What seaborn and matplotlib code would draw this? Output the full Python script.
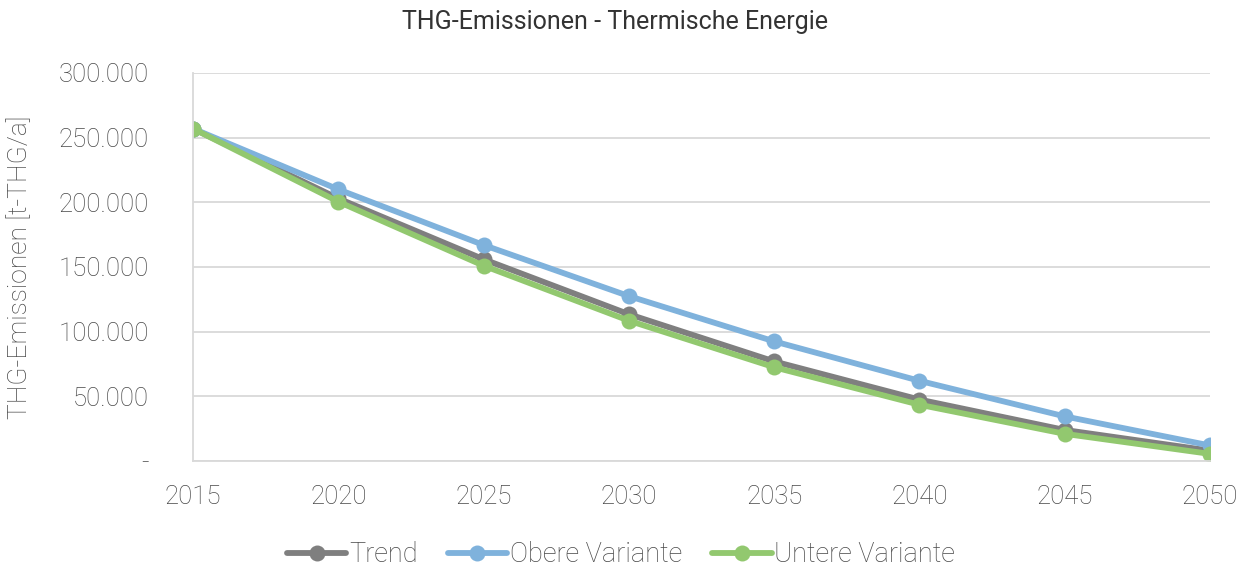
import matplotlib
matplotlib.use("Agg")
import matplotlib.pyplot as plt
import matplotlib.ticker as mticker
import seaborn as sns
import pandas as pd

years = [2015, 2020, 2025, 2030, 2035, 2040, 2045, 2050]
trend = [257000, 203000, 156000, 113500, 77000, 47500, 24000, 8000]
obere = [257000, 210000, 167000, 127500, 92500, 62000, 34500, 12000]
untere = [257000, 200500, 151000, 108500, 72500, 43500, 21000, 5500]
series_names = ["Trend", "Obere Variante", "Untere Variante"]
colors = ["#7F7F7F", "#7FB2DC", "#92C86F"]

title = "THG-Emissionen - Thermische Energie"
ylabel = "THG-Emissionen [t-THG/a]"

sns.set_theme(style="white")
plt.rcParams["font.family"] = ["Roboto", "DejaVu Sans"]
plt.rcParams["font.weight"] = "light"

TXT = "#484848"

df = pd.DataFrame({
    "Jahr": years * 3,
    "Wert": trend + obere + untere,
    "Serie": [series_names[0]] * len(years) + [series_names[1]] * len(years) + [series_names[2]] * len(years),
})

fig = plt.figure(figsize=(12.48, 5.70), dpi=100)
ax = fig.add_axes([193 / 1248, 1 - 461 / 570, 1017 / 1248, 388 / 570])

sns.lineplot(data=df, x="Jahr", y="Wert", hue="Serie", style="Serie",
             palette=dict(zip(series_names, colors)),
             markers={n: "o" for n in series_names}, dashes=False,
             linewidth=4.2, markersize=11.5, markeredgewidth=0, ax=ax, legend=True)

ax.set_xlim(2015, 2050)
ax.set_ylim(0, 300000)
ax.set_xticks(years)
ax.set_yticks([0, 50000, 100000, 150000, 200000, 250000, 300000])

def fmt(v, pos):
    if v == 0:
        return "-"
    return f"{int(v):,}".replace(",", ".")

ax.yaxis.set_major_formatter(mticker.FuncFormatter(fmt))
ax.grid(axis="y", color="#D9D9D9", linewidth=1.3)
ax.grid(axis="x", visible=False)
for s in ["top", "right"]:
    ax.spines[s].set_visible(False)
for s in ["left", "bottom"]:
    ax.spines[s].set_color("#D9D9D9")
    ax.spines[s].set_linewidth(1.3)
ax.tick_params(axis="both", which="major", direction="out", length=6, width=1.3,
               color="#D9D9D9", labelsize=18.5, labelcolor=TXT)
ax.tick_params(axis="x", pad=11)
ax.tick_params(axis="y", pad=26)
for lab in ax.get_xticklabels() + ax.get_yticklabels():
    lab.set_fontweight("light")

ax.set_xlabel("")
ax.set_ylabel(ylabel, fontsize=19, color=TXT, fontweight="light")
ax.yaxis.set_label_coords(-0.158, 0.5)

fig.text(0.493, 1 - 22 / 570, title, ha="center", va="center", fontsize=18,
         color="#333333", fontweight="normal")

handles, labels = ax.get_legend_handles_labels()
ax.legend_.remove()
leg = fig.legend(handles, labels, loc="center", bbox_to_anchor=(621 / 1248, 1 - 555 / 570),
                 ncol=3, frameon=False, fontsize=19.5, handlelength=2.2, handletextpad=0.1,
                 columnspacing=1.1)
for t in leg.get_texts():
    t.set_color(TXT)
    t.set_fontweight("light")

fig.savefig("out.png", dpi=100)
